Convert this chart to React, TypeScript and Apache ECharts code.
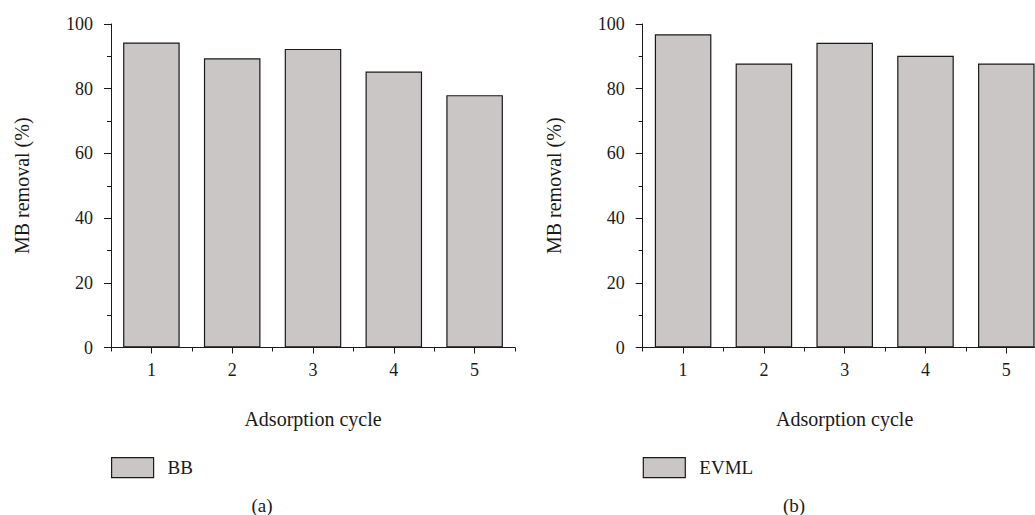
import React, { useEffect, useRef } from "react";
import * as echarts from "echarts";

// Adsorption–desorption reuse test: MB removal per cycle for two adsorbents
const cycles = ["1", "2", "3", "4", "5"];
const bbRemoval = [94.3, 89.4, 92.3, 85.3, 78.0];
const evmlRemoval = [96.8, 87.8, 94.2, 90.2, 87.8];
const yTicks = { min: 0, max: 100, interval: 20 };
const panelCaptions = ["(a)", "(b)"];
const seriesNames = ["BB", "EVML"];

const FONT = "'Liberation Serif', 'Times New Roman', serif";
const INK = "#1a1a1a";
const BAR_FILL = "#cac6c5";

export default function App() {
  const ref = useRef<HTMLDivElement>(null);

  useEffect(() => {
    if (!ref.current) return;
    const chart = echarts.init(ref.current, null, { renderer: "svg" });

    // second panel runs slightly past the right edge of the canvas
    const grids = [
      { left: 111, top: 24, width: 404, height: 323.5, outerBoundsMode: "none" },
      { left: 642.7, top: 24, width: 404, height: 323.5, outerBoundsMode: "none" },
    ];

    const xAxes: any[] = [];
    const yAxes: any[] = [];
    grids.forEach((_, i) => {
      // main category axis: labels and ticks at category centres
      xAxes.push({
        type: "category",
        gridIndex: i,
        data: cycles,
        position: "bottom",
        name: "Adsorption cycle",
        nameLocation: "middle",
        nameGap: 61,
        nameTextStyle: { fontFamily: FONT, fontSize: 20, color: INK },
        axisLine: { show: true, lineStyle: { color: INK, width: 1 } },
        axisTick: { show: true, alignWithLabel: true, length: 6, lineStyle: { color: INK } },
        axisLabel: { fontFamily: FONT, fontSize: 18, color: INK, margin: 13 },
        splitLine: { show: false },
      });
      // companion axis: short ticks at category boundaries
      xAxes.push({
        type: "category",
        gridIndex: i,
        data: cycles,
        position: "bottom",
        axisLine: { show: false },
        axisTick: { show: true, alignWithLabel: false, length: 4, lineStyle: { color: INK } },
        axisLabel: { show: false },
        splitLine: { show: false },
      });
      yAxes.push({
        type: "value",
        gridIndex: i,
        min: yTicks.min,
        max: yTicks.max,
        interval: yTicks.interval,
        name: "MB removal (%)",
        nameLocation: "middle",
        nameRotate: 90,
        nameGap: 79,
        nameTextStyle: { fontFamily: FONT, fontSize: 20, color: INK },
        axisLine: { show: true, lineStyle: { color: INK, width: 1 } },
        axisTick: { show: true, inside: false, length: 7, lineStyle: { color: INK } },
        minorTick: { show: true, splitNumber: 2, length: 4, lineStyle: { color: INK } },
        axisLabel: { fontFamily: FONT, fontSize: 18, color: INK, margin: 18 },
        splitLine: { show: false },
        minorSplitLine: { show: false },
      });
    });

    const barStyle = { color: BAR_FILL, borderColor: INK, borderWidth: 1.2 };

    chart.setOption({
      animation: false,
      backgroundColor: "#ffffff",
      textStyle: { fontFamily: FONT },
      grid: grids,
      xAxis: xAxes,
      yAxis: yAxes,
      legend: [0, 1].map((i) => ({
        data: [seriesNames[i]],
        left: grids[i].left,
        top: 457,
        padding: 0,
        icon: "rect",
        itemWidth: 42,
        itemHeight: 20,
        itemStyle: { color: BAR_FILL, borderColor: INK, borderWidth: 1.2 },
        textStyle: { fontFamily: FONT, fontSize: 19, color: INK, padding: [0, 0, 0, 9] },
        selectedMode: false,
      })),
      series: [
        {
          name: seriesNames[0],
          type: "bar",
          xAxisIndex: 0,
          yAxisIndex: 0,
          data: bbRemoval,
          barWidth: "70%",
          itemStyle: barStyle,
        },
        {
          name: seriesNames[1],
          type: "bar",
          xAxisIndex: 2,
          yAxisIndex: 1,
          data: evmlRemoval,
          barWidth: "70%",
          itemStyle: barStyle,
        },
      ],
      graphic: [
        {
          type: "text",
          x: 262,
          y: 505,
          style: {
            text: panelCaptions[0],
            font: `19px ${FONT}`,
            fill: INK,
            textAlign: "center",
            textVerticalAlign: "middle",
          },
        },
        {
          type: "text",
          x: 794,
          y: 505,
          style: {
            text: panelCaptions[1],
            font: `19px ${FONT}`,
            fill: INK,
            textAlign: "center",
            textVerticalAlign: "middle",
          },
        },
      ],
    });

    return () => chart.dispose();
  }, []);

  return (
    <div
      ref={ref}
      style={{ position: "fixed", left: 0, top: 0, width: 1035, height: 515, background: "#fff" }}
    />
  );
}
